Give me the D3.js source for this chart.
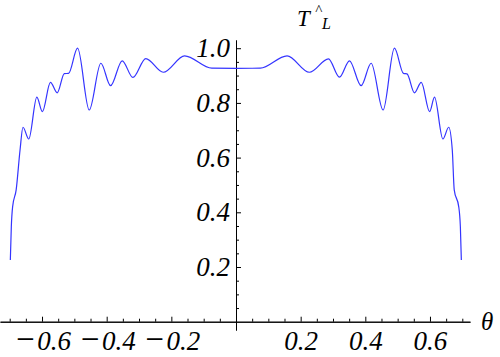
<!DOCTYPE html>
<meta charset="utf-8">
<style>
body { margin: 0; background: #fff; }
svg { display: block; }
</style>
<body>
<script src="https://d3js.org/d3.v7.min.js"></script>
<script>

// curve samples (theta, T)
var thetaValues = [-0.698, -0.695, -0.691, -0.680, -0.668, -0.659, -0.641, -0.616, -0.599, -0.574,
  -0.553, -0.531, -0.518, -0.490, -0.454, -0.418, -0.388, -0.352, -0.319, -0.279,
  -0.225, -0.159, -0.075, 0, 0.075, 0.158, 0.227, 0.286, 0.320, 0.351,
  0.387, 0.418, 0.455, 0.490, 0.518, 0.529, 0.552, 0.573, 0.599, 0.614,
  0.640, 0.658, 0.669, 0.675, 0.689, 0.694, 0.697];
var tValues = [0.226, 0.347, 0.420, 0.482, 0.628, 0.711, 0.668, 0.821, 0.768, 0.875,
  0.837, 0.907, 0.908, 1.000, 0.774, 0.945, 0.863, 0.954, 0.893, 0.962,
  0.912, 0.972, 0.927, 0.9265, 0.927, 0.972, 0.912, 0.961, 0.894, 0.954,
  0.863, 0.945, 0.774, 1.000, 0.908, 0.906, 0.837, 0.875, 0.768, 0.821,
  0.668, 0.711, 0.628, 0.482, 0.420, 0.347, 0.226];

var xMajor = [-0.6, -0.4, -0.2, 0.2, 0.4, 0.6];
var xMinor = [-0.7, -0.65, -0.55, -0.5, -0.45, -0.35, -0.3, -0.25, -0.15, -0.1, -0.05,
  0.05, 0.1, 0.15, 0.25, 0.3, 0.35, 0.45, 0.5, 0.55, 0.65, 0.7];
var yMajor = [0.2, 0.4, 0.6, 0.8, 1.0];
var yMinor = [0.05, 0.1, 0.15, 0.25, 0.3, 0.35, 0.45, 0.5, 0.55, 0.65, 0.7, 0.75, 0.85, 0.9, 0.95];

var width = 500, height = 357;
var serif = "'Liberation Serif', 'Times New Roman', serif";

var x = d3.scaleLinear().domain([-0.730, 0.7238]).range([0, 470]);
var y = d3.scaleLinear().domain([-0.0303, 1.03]).range([330, 40]);

var svg = d3.select("body").append("svg")
    .attr("width", width)
    .attr("height", height);

var fmt = d3.format(".1f");

function styleAxis(g) {
  g.selectAll("path, line").style("stroke", "#000").style("stroke-width", "1px");
  g.selectAll("text")
    .style("font-family", serif)
    .style("font-style", "italic")
    .style("font-size", "27px")
    .style("fill", "#000");
}

// Mathematica draws a long minus sign: split it into its own bigger tspan
function longMinus(g) {
  g.selectAll("text").each(function(d) {
    if (d >= 0) return;
    var t = d3.select(this).text("");
    t.append("tspan").style("font-size", "33px").text("\u2212");
    t.append("tspan").attr("dx", 1).text(d3.format(".1f")(-d));
  });
}

// x axis, ticks pointing up
svg.append("g")
    .attr("transform", "translate(0," + y(0) + ")")
    .call(d3.axisBottom(x).tickValues(xMajor).tickSize(-5).tickSizeOuter(0).tickPadding(9).tickFormat(fmt))
    .call(styleAxis)
    .call(longMinus);
svg.append("g")
    .attr("transform", "translate(0," + y(0) + ")")
    .call(d3.axisBottom(x).tickValues(xMinor).tickSize(-3).tickSizeOuter(0).tickFormat(""))
    .call(styleAxis);

// y axis, ticks pointing right
svg.append("g")
    .attr("transform", "translate(" + x(0) + ",0)")
    .call(d3.axisLeft(y).tickValues(yMajor).tickSize(-5).tickSizeOuter(0).tickPadding(6).tickFormat(fmt))
    .call(styleAxis);
svg.append("g")
    .attr("transform", "translate(" + x(0) + ",0)")
    .call(d3.axisLeft(y).tickValues(yMinor).tickSize(-3).tickSizeOuter(0).tickFormat(""))
    .call(styleAxis);

// the curve
var pts = thetaValues.map(function(t, i) { return [t, tValues[i]]; });
var line = d3.line()
    .x(function(d) { return x(d[0]); })
    .y(function(d) { return y(d[1]); })
    .curve(d3.curveMonotoneX);
svg.append("path")
    .datum(pts)
    .style("fill", "none")
    .style("stroke", "#3434ff")
    .style("stroke-width", "1.2px")
    .attr("d", line);

// axis labels
function label(txt, px, py, size) {
  return svg.append("text")
      .attr("x", px)
      .attr("y", py)
      .style("font-family", serif)
      .style("font-style", "italic")
      .style("font-size", size + "px")
      .style("fill", "#000")
      .text(txt);
}
label("θ", 481, 330, 25);
label("T", 297, 25.7, 23);
label("^", 315, 15, 15);
label("L", 322, 29, 16);

</script>
</body>
